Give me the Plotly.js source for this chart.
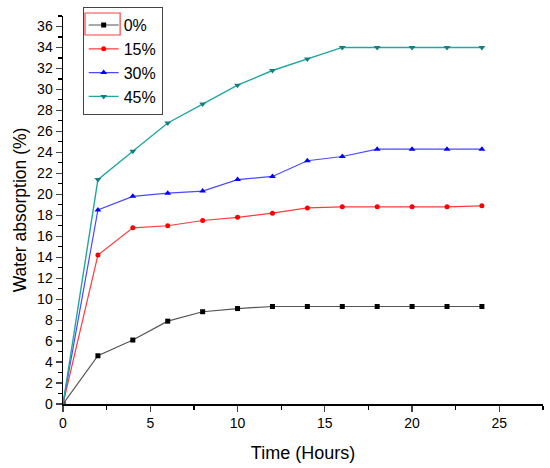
<!DOCTYPE html>
<html>
<head>
<meta charset="utf-8">
<script src="https://cdn.plot.ly/plotly-3.0.1.min.js"></script>
<style>html,body{margin:0;padding:0;background:#fff;}#chart{width:550px;height:468px;}</style>
</head>
<body>
<div id="chart"></div>
<script>
const hours = [0, 2, 4, 6, 8, 10, 12, 14, 16, 18, 20, 22, 24];
const s0 = [0, 4.6, 6.1, 7.9, 8.8, 9.1, 9.3, 9.3, 9.3, 9.3, 9.3, 9.3, 9.3];
const s15 = [0, 14.2, 16.8, 17.0, 17.5, 17.8, 18.2, 18.7, 18.8, 18.8, 18.8, 18.8, 18.9];
const s30 = [0, 18.5, 19.8, 20.1, 20.3, 21.4, 21.7, 23.2, 23.6, 24.3, 24.3, 24.3, 24.3];
const s45 = [0, 21.4, 24.1, 26.8, 28.6, 30.4, 31.8, 32.9, 34.0, 34.0, 34.0, 34.0, 34.0];
const names = ["0%", "15%", "30%", "45%"];

const font = "Liberation Sans, Arial, sans-serif";
const traces = [
  {x: hours, y: s0, name: names[0], mode: "lines+markers",
   line: {color: "#555555", width: 1.2}, marker: {symbol: "square", size: 5, color: "#000000"}},
  {x: hours, y: s15, name: names[1], mode: "lines+markers",
   line: {color: "#ff3b3b", width: 1.2}, marker: {symbol: "circle", size: 5, color: "#ff0000"}},
  {x: hours, y: s30, name: names[2], mode: "lines+markers",
   line: {color: "#4a4aff", width: 1.2}, marker: {symbol: "triangle-up", size: 6, color: "#0000ff"}},
  {x: hours, y: s45, name: names[3], mode: "lines+markers",
   line: {color: "#20a8a0", width: 1.4}, marker: {symbol: "triangle-down", size: 6, color: "#108080"}}
];

const layout = {
  width: 550, height: 468,
  margin: {l: 63, r: 7, t: 14, b: 64},
  paper_bgcolor: "#fff", plot_bgcolor: "#fff",
  font: {family: font, color: "#000", size: 14},
  showlegend: true,
  legend: {x: 0.041, y: 1.023, xanchor: "left", yanchor: "top",
           bordercolor: "#444", borderwidth: 1, bgcolor: "rgba(255,255,255,0)",
           font: {family: font, size: 16}, tracegroupgap: 0, itemwidth: 30},
  xaxis: {range: [0, 27.5], tick0: 0, dtick: 5, ticks: "outside", ticklen: 6, tickwidth: 1.2,
          showline: true, linecolor: "#000", linewidth: 1.5, showgrid: false, zeroline: false,
          minor: {dtick: 2.5, ticks: "outside", ticklen: 4, tickwidth: 1.2, tickcolor: "#000"},
          tickfont: {family: font, size: 14},
          title: {text: "Time (Hours)", font: {family: font, size: 18}, standoff: 16}},
  yaxis: {range: [0, 37], tick0: 0, dtick: 2, ticks: "outside", ticklen: 6, tickwidth: 1.2,
          showline: true, linecolor: "#000", linewidth: 1.5, showgrid: false, zeroline: false,
          minor: {dtick: 1, ticks: "outside", ticklen: 4, tickwidth: 1.2, tickcolor: "#000"},
          tickfont: {family: font, size: 14},
          title: {text: "Water absorption (%)", font: {family: font, size: 17.5}, standoff: 6}},
  shapes: [
    {type: "rect", xref: "paper", yref: "paper", x0: 0.0458, x1: 0.119, y0: 0.951, y1: 1.0077,
     layer: "above", line: {color: "#ff4040", width: 1.2}, fillcolor: "rgba(0,0,0,0)"}
  ]
};

Plotly.newPlot("chart", traces, layout, {displayModeBar: false, staticPlot: true});
</script>
</body>
</html>
